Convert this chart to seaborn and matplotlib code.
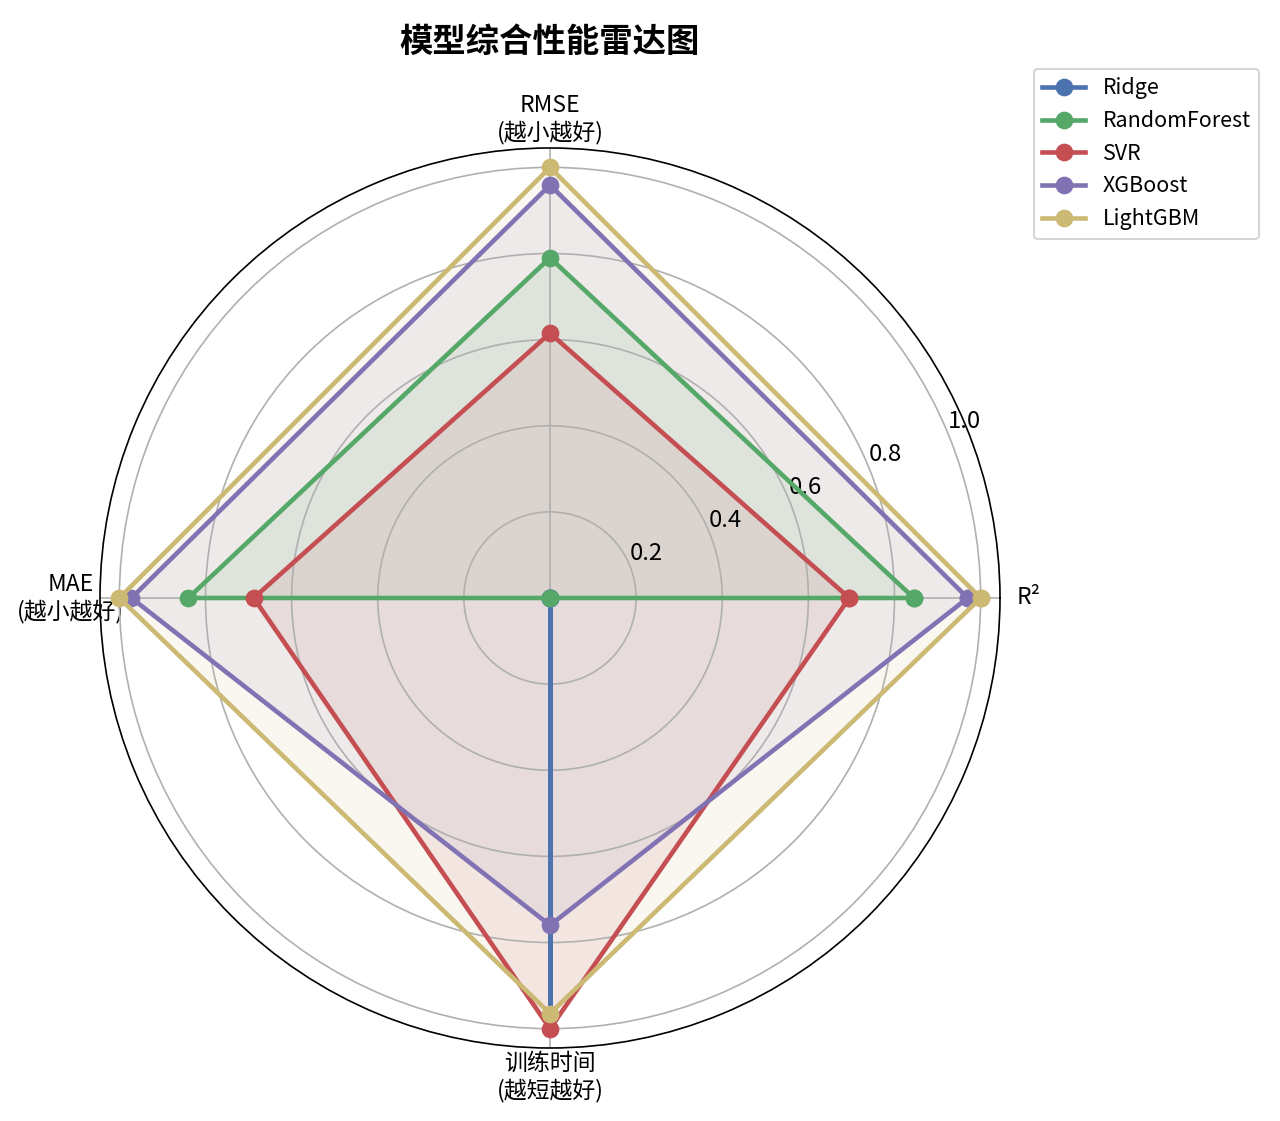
import numpy as np
import matplotlib
matplotlib.use('Agg')
import matplotlib.pyplot as plt
import seaborn as sns

# radar data (normalised scores, bigger = better)
categories = ['R²', 'RMSE\n(越小越好)', 'MAE\n(越小越好)', '训练时间\n(越短越好)']
models = ['Ridge', 'RandomForest', 'SVR', 'XGBoost', 'LightGBM']
ridge_vals = [0.0, 0.0, 0.0, 0.97]
rf_vals = [0.845, 0.79, 0.84, 0.0]
svr_vals = [0.695, 0.615, 0.688, 1.0]
xgb_vals = [0.97, 0.959, 0.972, 0.76]
lgbm_vals = [1.0, 1.0, 1.0, 0.965]
r_ticks = [0.2, 0.4, 0.6, 0.8, 1.0]

all_vals = [ridge_vals, rf_vals, svr_vals, xgb_vals, lgbm_vals]

plt.rcParams['font.family'] = ['Noto Sans CJK SC', 'DejaVu Sans']
plt.rcParams['axes.unicode_minus'] = False
# old seaborn "deep" order: blue, green, red, purple, yellow
colors = sns.color_palette('deep6', len(models))

angles = np.linspace(0, 2 * np.pi, len(categories), endpoint=False).tolist()
angles += angles[:1]

fig = plt.figure(figsize=(1280 / 150, 1121 / 150), dpi=150)
ax = fig.add_axes([100 / 1280, 73 / 1121, 900 / 1280, 900 / 1121], polar=True)

for name, vals, c in zip(models, all_vals, colors):
    v = vals + vals[:1]
    ax.plot(angles, v, 'o-', linewidth=2.2, markersize=7.5, color=c, label=name)
    ax.fill(angles, v, alpha=0.1, color=c)

ax.set_xticks(angles[:-1])
ax.set_xticklabels(categories, fontsize=11)
ax.set_ylim(0, 1.045)
ax.set_yticks(r_ticks)
ax.set_yticklabels([f'{t:.1f}' for t in r_ticks], fontsize=11.5)
ax.grid(True, color='#b0b0b0')

ax.set_title('模型综合性能雷达图', fontsize=16, fontweight='bold', pad=20)
ax.legend(loc='upper right', bbox_to_anchor=(1.3, 1.1), fontsize=10.3)

plt.savefig('out.png', dpi=150)
